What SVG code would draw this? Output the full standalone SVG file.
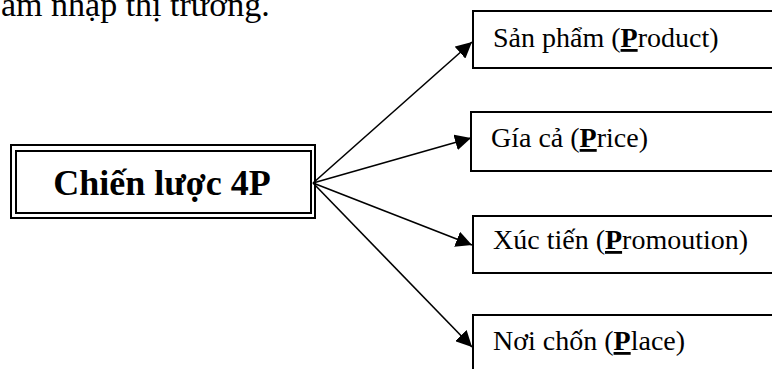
<svg xmlns="http://www.w3.org/2000/svg" width="772" height="369" viewBox="0 0 772 369">
<defs>
<marker id="ah" viewBox="0 0 10 10" refX="10" refY="5" markerWidth="16" markerHeight="16" markerUnits="userSpaceOnUse" orient="auto">
<path d="M0,0 L10,5 L0,10 z" fill="#000"/>
</marker>
<style>
.t{font-family:"Liberation Serif","Times New Roman",serif;font-size:28px;fill:#000}
.h{font-size:34px}
.m{font-size:36px;font-weight:bold}
.b{fill:#fff;stroke:#000;stroke-width:2}
.c{stroke:#000;stroke-width:1.6;fill:none;marker-end:url(#ah)}
.p{font-weight:bold;text-decoration:underline}
</style>
</defs>
<rect width="772" height="369" fill="#fff"/>
<text class="t h" x="1" y="16">âm nhập thị trường.</text>
<g id="center">
<rect x="11" y="145" width="304" height="73" fill="#fff" stroke="#000" stroke-width="2"/>
<rect x="16" y="151" width="295" height="62" fill="none" stroke="#000" stroke-width="2"/>
<text class="t m" x="162" y="195" text-anchor="middle">Chiến lược 4P</text>
</g>
<g id="product">
<rect class="b" x="473" y="11" width="310" height="57"/>
<text class="t" x="493" y="47">Sản phẩm (<tspan class="p">P</tspan>roduct)</text>
</g>
<g id="price">
<rect class="b" x="471" y="112" width="310" height="59"/>
<text class="t" x="491" y="147">Gía cả (<tspan class="p">P</tspan>rice)</text>
</g>
<g id="promotion">
<rect class="b" x="473" y="216" width="310" height="57"/>
<text class="t" x="493" y="249">Xúc tiến (<tspan class="p">P</tspan>romoution)</text>
</g>
<g id="place">
<rect class="b" x="473" y="315" width="310" height="70"/>
<text class="t" x="493" y="350">Nơi chốn (<tspan class="p">P</tspan>lace)</text>
</g>
<g id="connectors">
<line class="c" x1="313" y1="183" x2="472" y2="42"/>
<line class="c" x1="313" y1="183" x2="471" y2="138"/>
<line class="c" x1="313" y1="183" x2="472" y2="245"/>
<line class="c" x1="313" y1="183" x2="472" y2="347"/>
</g>
</svg>
